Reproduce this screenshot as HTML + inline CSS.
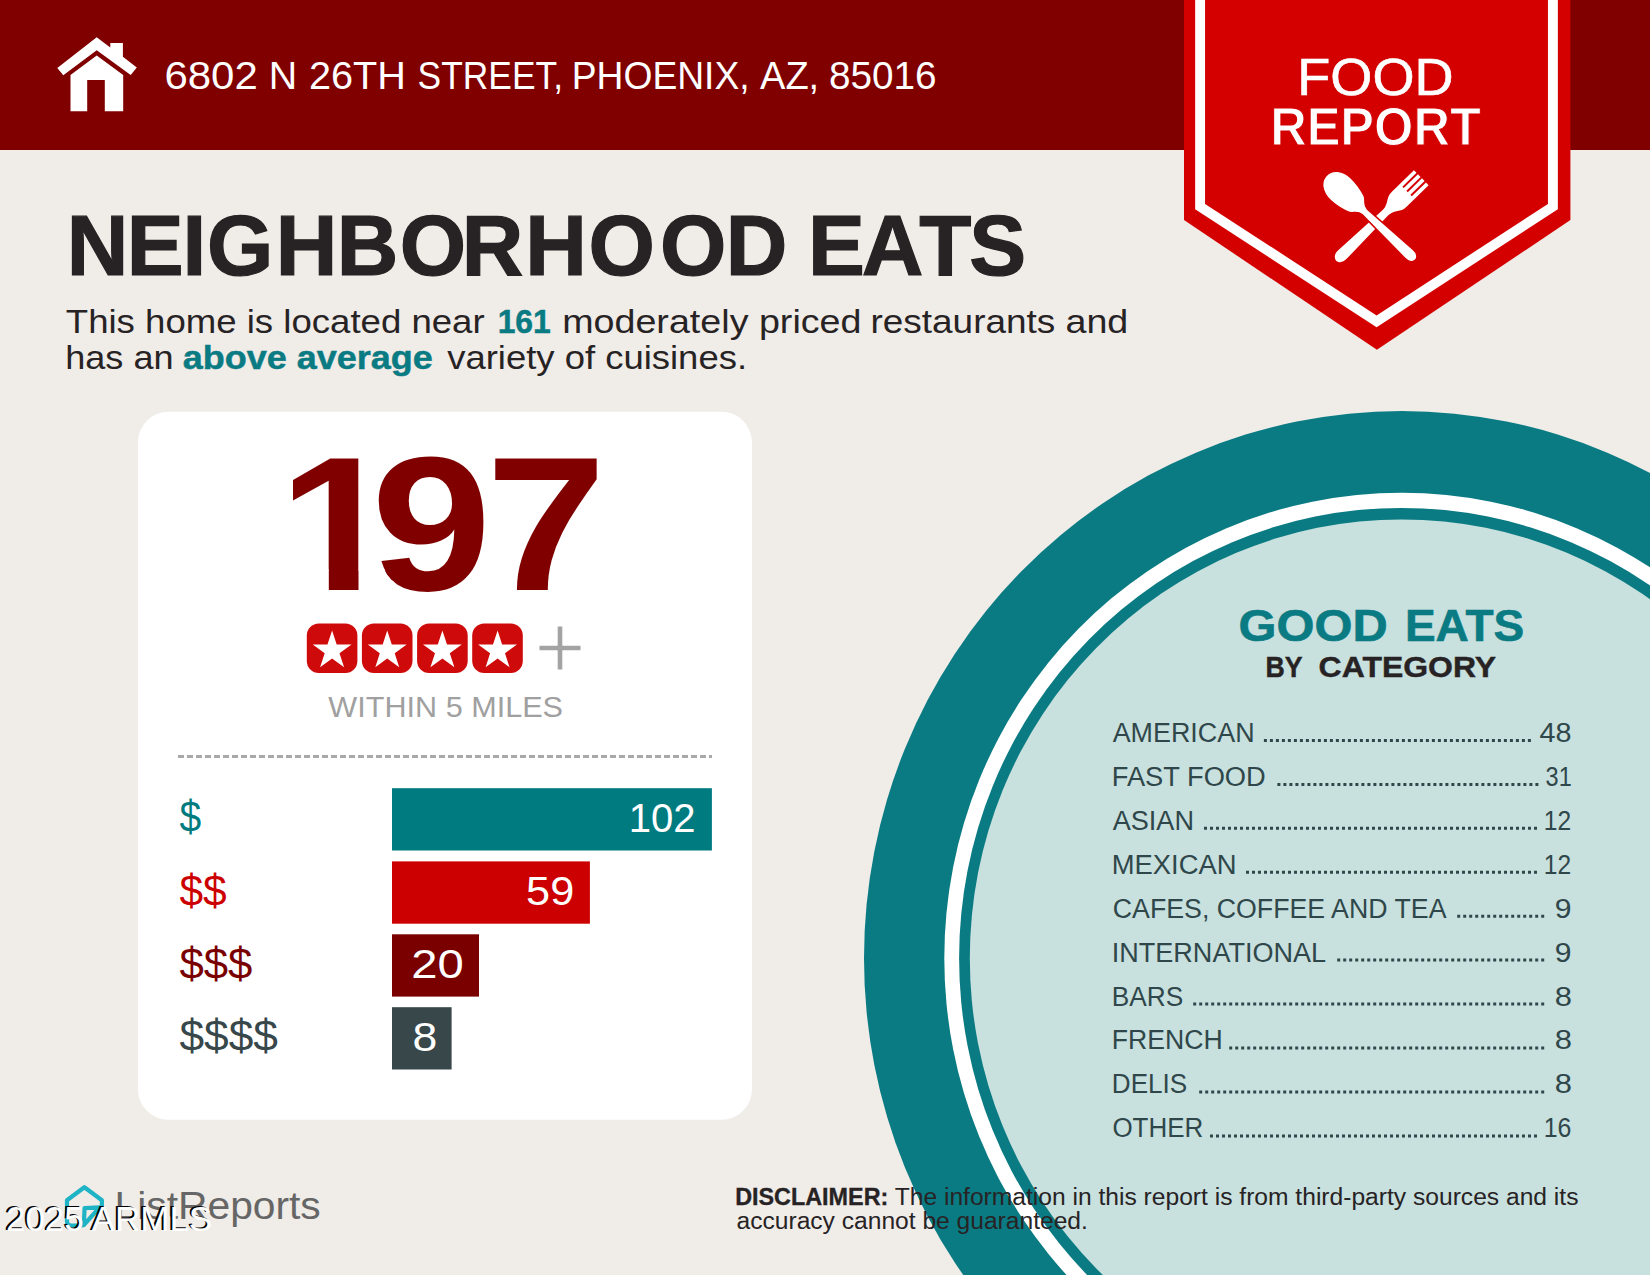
<!DOCTYPE html>
<html lang="en"><head><meta charset="utf-8"><title>Food Report - Neighborhood Eats</title>
<style>html,body{margin:0;padding:0;background:#f0ece8;}body{width:1650px;height:1275px;overflow:hidden;font-family:"Liberation Sans", sans-serif;}svg text{white-space:pre}</style>
</head><body>
<svg width="1650" height="1275" viewBox="0 0 1650 1275" font-family='"Liberation Sans", sans-serif' style="display:block">
<rect width="1650" height="1275" fill="#f0ece8"/>
<ellipse cx="1401.6" cy="958.2" rx="537.6" ry="547.2" fill="#0a7b83"/>
<ellipse cx="1401.6" cy="958.2" rx="457.3" ry="465.5" fill="#ffffff"/>
<ellipse cx="1401.6" cy="958.2" rx="442.5" ry="450.3" fill="#0a7b83"/>
<ellipse cx="1401.6" cy="958.2" rx="431.8" ry="438.8" fill="#c8e0de"/>
<rect width="1650" height="150" fill="#800000"/>
<path d="M1184 0H1570.4V220L1376.9 349.8L1184 220Z" fill="#d40000"/>
<path d="M1200.1 0V206.6L1376.6 321.3L1552.9 206.6V0" fill="none" stroke="#fff" stroke-width="9.9"/>
<g fill="#fff"><path d="M96.7 37.3L57.3 68L63.3 75.3L96.7 50.3L130.7 75.1L136.8 67.5L122.9 56.8V43.1H110.3V47.5Z"/><path d="M96.7 55.4L70.5 75.1V111.2H87.2V80.1H104.8V111.2H123.2V75.1Z"/></g>
<text y="89.1"><tspan x="164.43" font-size="39.2" fill="#fff" textLength="93.29" lengthAdjust="spacingAndGlyphs">6802</tspan> <tspan x="268.79" font-size="39.2" fill="#fff" textLength="28.42" lengthAdjust="spacingAndGlyphs">N</tspan> <tspan x="308.99" font-size="39.2" fill="#fff" textLength="96.94" lengthAdjust="spacingAndGlyphs">26TH</tspan> <tspan x="417.60" font-size="39.2" fill="#fff" textLength="145.41" lengthAdjust="spacingAndGlyphs">STREET,</tspan> <tspan x="571.75" font-size="39.2" fill="#fff" textLength="177.89" lengthAdjust="spacingAndGlyphs">PHOENIX,</tspan> <tspan x="760.00" font-size="39.2" fill="#fff" textLength="59.20" lengthAdjust="spacingAndGlyphs">AZ,</tspan> <tspan x="829.01" font-size="39.2" fill="#fff" textLength="107.57" lengthAdjust="spacingAndGlyphs">85016</tspan></text>
<text x="1297.34" y="95.4" font-size="52" fill="#fff" stroke="#fff" stroke-width="0.6" textLength="156.17" lengthAdjust="spacingAndGlyphs">FOOD</text>
<text x="1270.14" y="144.5" font-size="53" fill="#fff" font-weight="bold" textLength="210.72" lengthAdjust="spacingAndGlyphs" stroke="#d40000" stroke-width="1.1">REPORT</text>
<g transform="translate(1375.6 222.2) rotate(45.7)"><path d="M-10.5 -63.8V-33C-10.5 -24 -4.2 -23 -3.8 -14L-6 46C-6.6 58 6.6 58 6 46L3.8 -14C4.2 -23 10.5 -24 10.5 -33V-63.8H6.75V-44H4.75V-63.8H1V-44H-1V-63.8H-4.75V-44H-6.75V-63.8Z" fill="#fff"/></g>
<g transform="translate(1375.6 222.2) rotate(-46.5)"><path d="M0 -68C8.5 -68 15.2 -60 15.2 -48C15.2 -40 13.5 -33 11.5 -27C10 -22 4.4 -22 3.8 -15L6 46C6.6 58 -6.6 58 -6 46L-3.8 -15C-4.4 -22 -10 -22 -11.5 -27C-13.5 -33 -15.2 -40 -15.2 -48C-15.2 -60 -8.5 -68 0 -68Z" fill="#fff" stroke="#d40000" stroke-width="1.5"/></g>
<text x="66.75 126.75 182.60 207.05 275.70 336.80 399.75 461.80 525.15 588.55 660.10 725.70 776.88 808.05 861.70 919.30 969.15" y="274.8" font-size="85.3" fill="#272324" font-weight="bold" stroke="#272324" stroke-width="1.19">NEIGHBORHOOD EATS</text>
<text y="332.6"><tspan x="65.80" font-size="34" fill="#272324" textLength="418.85" lengthAdjust="spacingAndGlyphs">This home is located near</tspan> <tspan x="497.67" font-size="34" fill="#0a7b83" font-weight="bold" stroke="#0a7b83" stroke-width="0.48" textLength="53.15" lengthAdjust="spacingAndGlyphs">161</tspan> <tspan x="562.18" font-size="34" fill="#272324" textLength="299.33" lengthAdjust="spacingAndGlyphs">moderately priced</tspan> <tspan x="870.53" font-size="34" fill="#272324" textLength="184.76" lengthAdjust="spacingAndGlyphs">restaurants</tspan> <tspan x="1065.49" font-size="34" fill="#272324" textLength="62.82" lengthAdjust="spacingAndGlyphs">and</tspan></text>
<text y="369.2"><tspan x="65.28" font-size="34" fill="#272324" textLength="108.25" lengthAdjust="spacingAndGlyphs">has an</tspan> <tspan x="182.78" font-size="34" fill="#0a7b83" font-weight="bold" stroke="#0a7b83" stroke-width="0.48" textLength="250.04" lengthAdjust="spacingAndGlyphs">above average</tspan> <tspan x="447.20" font-size="34" fill="#272324" textLength="299.82" lengthAdjust="spacingAndGlyphs">variety of cuisines.</tspan></text>
<rect x="137.9" y="411.8" width="614.1" height="708" rx="30.5" fill="#fff"/>
<clipPath id="one"><rect x="280" y="440" width="85" height="129.4"/><rect x="328.8" y="569" width="29.7" height="24"/><polygon points="365,440 615,440 615,600 393.6,600 393.6,581.6 391.5,579.8 387.1,574.5 384.3,569.4 365,569.4"/></clipPath>
<g clip-path="url(#one)"><text x="246.33 328.59 430.19" y="589.6" font-size="191.3" fill="#800000" font-weight="bold" transform="scale(1.13 1)">197</text></g>
<rect x="306.8" y="623.4" width="50.6" height="49.6" rx="12" fill="#cf0a0a"/>
<polygon points="332.1,630.4 336.7,644.5 351.5,644.5 339.5,653.2 344.1,667.3 332.1,658.6 320.1,667.3 324.7,653.2 312.7,644.5 327.5,644.5" fill="#fff"/>
<rect x="361.9" y="623.4" width="50.6" height="49.6" rx="12" fill="#cf0a0a"/>
<polygon points="387.2,630.4 391.8,644.5 406.7,644.5 394.7,653.2 399.2,667.3 387.2,658.6 375.3,667.3 379.8,653.2 367.8,644.5 382.7,644.5" fill="#fff"/>
<rect x="417.1" y="623.4" width="50.6" height="49.6" rx="12" fill="#cf0a0a"/>
<polygon points="442.4,630.4 447.0,644.5 461.8,644.5 449.8,653.2 454.4,667.3 442.4,658.6 430.4,667.3 435.0,653.2 423.0,644.5 437.8,644.5" fill="#fff"/>
<rect x="472.2" y="623.4" width="50.6" height="49.6" rx="12" fill="#cf0a0a"/>
<polygon points="497.6,630.4 502.1,644.5 517.0,644.5 505.0,653.2 509.5,667.3 497.6,658.6 485.6,667.3 490.1,653.2 478.1,644.5 493.0,644.5" fill="#fff"/>
<path d="M539.5 648H580.5M560 626.5V669.5" stroke="#a3a3a3" stroke-width="4.6" fill="none"/>
<text x="328.30" y="717.3" font-size="29.6" fill="#a0a0a0" textLength="234.76" lengthAdjust="spacingAndGlyphs">WITHIN 5 MILES</text>
<path d="M178 756.5H712" stroke="#a9a9a9" stroke-width="3" stroke-dasharray="6 3" fill="none"/>
<rect x="392" y="788.2" width="319.9" height="62.3" fill="#007b80"/>
<text x="628.75" y="831.8000000000001" font-size="40.7" fill="#fff" textLength="66.86" lengthAdjust="spacingAndGlyphs">102</text>
<text x="179.40" y="832.4000000000001" font-size="44.5" fill="#007b80" textLength="21.68" lengthAdjust="spacingAndGlyphs">$</text>
<rect x="392" y="861.4" width="197.9" height="62.3" fill="#cc0000"/>
<text x="526.14" y="905.0" font-size="40.7" fill="#fff" textLength="48.09" lengthAdjust="spacingAndGlyphs">59</text>
<text x="179.40" y="905.6" font-size="44.5" fill="#cc0000" textLength="47.29" lengthAdjust="spacingAndGlyphs">$$</text>
<rect x="392" y="934.3" width="87.0" height="62.3" fill="#7a0000"/>
<text x="411.18" y="977.9" font-size="40.7" fill="#fff" textLength="52.45" lengthAdjust="spacingAndGlyphs">20</text>
<text x="179.40" y="978.5" font-size="44.5" fill="#7a0000" textLength="72.91" lengthAdjust="spacingAndGlyphs">$$$</text>
<rect x="392" y="1007.2" width="59.6" height="62.3" fill="#37474a"/>
<text x="412.40" y="1050.8" font-size="40.7" fill="#fff" textLength="24.78" lengthAdjust="spacingAndGlyphs">8</text>
<text x="179.40" y="1051.4" font-size="44.5" fill="#37474a" textLength="98.54" lengthAdjust="spacingAndGlyphs">$$$$</text>
<text y="640.8"><tspan x="1238.63" font-size="45" fill="#0a7b83" font-weight="bold" stroke="#0a7b83" stroke-width="0.63" textLength="149.08" lengthAdjust="spacingAndGlyphs">GOOD</tspan> <tspan x="1404.95" font-size="45" fill="#0a7b83" font-weight="bold" stroke="#0a7b83" stroke-width="0.63" textLength="119.27" lengthAdjust="spacingAndGlyphs">EATS</tspan></text>
<text y="677.3"><tspan x="1265.53" font-size="30" fill="#272324" font-weight="bold" stroke="#272324" stroke-width="0.42" textLength="37.07" lengthAdjust="spacingAndGlyphs">BY</tspan> <tspan x="1318.64" font-size="30" fill="#272324" font-weight="bold" stroke="#272324" stroke-width="0.42" textLength="177.56" lengthAdjust="spacingAndGlyphs">CATEGORY</tspan></text>
<text x="1112.70" y="741.8" font-size="26.8" fill="#2f474a" textLength="141.86" lengthAdjust="spacingAndGlyphs">AMERICAN</text>
<path d="M1263.9 740.4H1530.9" stroke="#2f474a" stroke-width="3" stroke-dasharray="3 3" fill="none"/>
<text x="1539.60" y="741.8" font-size="26.8" fill="#2f474a" textLength="31.97" lengthAdjust="spacingAndGlyphs">48</text>
<text x="1111.77" y="785.75" font-size="26.8" fill="#2f474a" textLength="153.98" lengthAdjust="spacingAndGlyphs">FAST FOOD</text>
<path d="M1277.4 784.4H1538.4" stroke="#2f474a" stroke-width="3" stroke-dasharray="3 3" fill="none"/>
<text x="1545.62" y="785.75" font-size="26.8" fill="#2f474a" textLength="26.17" lengthAdjust="spacingAndGlyphs">31</text>
<text x="1112.70" y="829.6999999999999" font-size="26.8" fill="#2f474a" textLength="81.27" lengthAdjust="spacingAndGlyphs">ASIAN</text>
<path d="M1204.0 828.3H1537" stroke="#2f474a" stroke-width="3" stroke-dasharray="3 3" fill="none"/>
<text x="1543.76" y="829.6999999999999" font-size="26.8" fill="#2f474a" textLength="27.37" lengthAdjust="spacingAndGlyphs">12</text>
<text x="1111.76" y="873.65" font-size="26.8" fill="#2f474a" textLength="124.83" lengthAdjust="spacingAndGlyphs">MEXICAN</text>
<path d="M1246.0 872.2H1537" stroke="#2f474a" stroke-width="3" stroke-dasharray="3 3" fill="none"/>
<text x="1543.76" y="873.65" font-size="26.8" fill="#2f474a" textLength="27.37" lengthAdjust="spacingAndGlyphs">12</text>
<text x="1112.81" y="917.5999999999999" font-size="26.8" fill="#2f474a" textLength="333.67" lengthAdjust="spacingAndGlyphs">CAFES, COFFEE AND TEA</text>
<path d="M1457.2 916.2H1544.2" stroke="#2f474a" stroke-width="3" stroke-dasharray="3 3" fill="none"/>
<text x="1554.88" y="917.5999999999999" font-size="26.8" fill="#2f474a" textLength="16.74" lengthAdjust="spacingAndGlyphs">9</text>
<text x="1111.78" y="961.55" font-size="26.8" fill="#2f474a" textLength="214.32" lengthAdjust="spacingAndGlyphs">INTERNATIONAL</text>
<path d="M1337.2 960.1H1544.2" stroke="#2f474a" stroke-width="3" stroke-dasharray="3 3" fill="none"/>
<text x="1554.88" y="961.55" font-size="26.8" fill="#2f474a" textLength="16.74" lengthAdjust="spacingAndGlyphs">9</text>
<text x="1111.84" y="1005.5" font-size="26.8" fill="#2f474a" textLength="71.52" lengthAdjust="spacingAndGlyphs">BARS</text>
<path d="M1193.2 1004.1H1544.2" stroke="#2f474a" stroke-width="3" stroke-dasharray="3 3" fill="none"/>
<text x="1554.85" y="1005.5" font-size="26.8" fill="#2f474a" textLength="17.20" lengthAdjust="spacingAndGlyphs">8</text>
<text x="1111.81" y="1049.45" font-size="26.8" fill="#2f474a" textLength="110.93" lengthAdjust="spacingAndGlyphs">FRENCH</text>
<path d="M1229.2 1048.0H1544.2" stroke="#2f474a" stroke-width="3" stroke-dasharray="3 3" fill="none"/>
<text x="1554.85" y="1049.45" font-size="26.8" fill="#2f474a" textLength="17.20" lengthAdjust="spacingAndGlyphs">8</text>
<text x="1111.85" y="1093.4" font-size="26.8" fill="#2f474a" textLength="75.40" lengthAdjust="spacingAndGlyphs">DELIS</text>
<path d="M1199.2 1092.0H1544.2" stroke="#2f474a" stroke-width="3" stroke-dasharray="3 3" fill="none"/>
<text x="1554.85" y="1093.4" font-size="26.8" fill="#2f474a" textLength="17.20" lengthAdjust="spacingAndGlyphs">8</text>
<text x="1112.43" y="1137.35" font-size="26.8" fill="#2f474a" textLength="90.91" lengthAdjust="spacingAndGlyphs">OTHER</text>
<path d="M1210.0 1135.9H1537" stroke="#2f474a" stroke-width="3" stroke-dasharray="3 3" fill="none"/>
<text x="1543.74" y="1137.35" font-size="26.8" fill="#2f474a" textLength="27.70" lengthAdjust="spacingAndGlyphs">16</text>
<text y="1204.6"><tspan x="735.16" font-size="23.3" fill="#272324" font-weight="bold" stroke="#272324" stroke-width="0.33" textLength="153.14" lengthAdjust="spacingAndGlyphs">DISCLAIMER:</tspan> <tspan x="894.70" font-size="23.3" fill="#272324" textLength="683.78" lengthAdjust="spacingAndGlyphs">The information in this report is from third-party sources and its</tspan></text>
<text x="736.50" y="1229.3" font-size="23.3" fill="#272324" textLength="351.35" lengthAdjust="spacingAndGlyphs">accuracy cannot be guaranteed.</text>
<g fill="none" stroke="#1fb3c6" stroke-width="4.2" stroke-linejoin="round" stroke-linecap="round"><path d="M82 1225.5H71Q67 1225.5 67 1221.5V1200.2L84.4 1187.2L101.9 1200.2V1206"/><path d="M84.6 1208.2L99.6 1207.4L83.8 1225Z"/></g>
<text x="114.58" y="1218.5" font-size="38" fill="#666" textLength="206.19" lengthAdjust="spacingAndGlyphs">ListReports</text>
<text x="4.01" y="1229.7" font-size="35" fill="#000" textLength="206.32" lengthAdjust="spacingAndGlyphs">2025 ARMLS</text>
<text x="5.91" y="1230.6" font-size="35" fill="#fff" textLength="206.32" lengthAdjust="spacingAndGlyphs">2025 ARMLS</text>
</svg>
</body></html>
